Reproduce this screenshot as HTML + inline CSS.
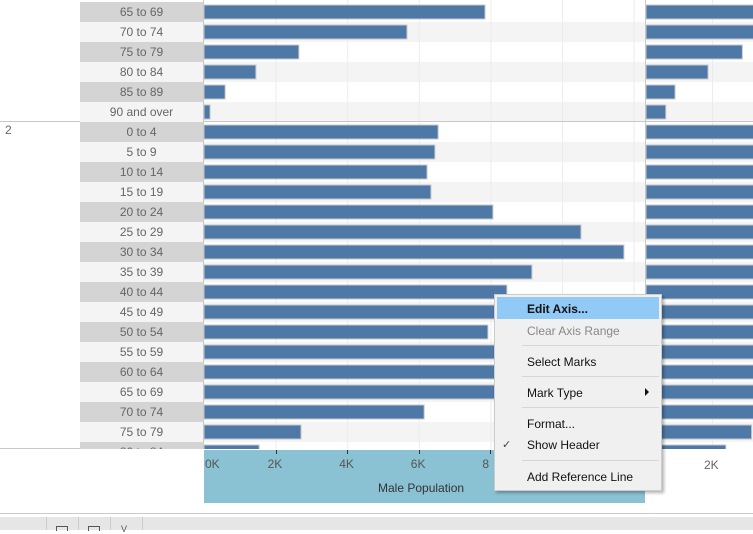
<!DOCTYPE html>
<html><head><meta charset="utf-8"><style>
body{margin:0;width:753px;height:530px;overflow:hidden;background:#fff;font-family:"Liberation Sans",sans-serif;position:relative}
.abs{position:absolute}
#labels{position:absolute;left:0;top:0;width:204px;height:449px;overflow:hidden;z-index:2}
.lbl{position:absolute;left:80px;width:123px;height:20px;line-height:20px;text-align:center;font-size:12px;color:#666}
.menu-item{position:absolute;left:527px;font-size:12px;color:#111;z-index:5}
.sep{position:absolute;left:522px;width:137px;height:1px;background:#d6d6d6;z-index:5}
</style></head><body>
<svg id="svg" class="abs" style="left:0;top:0" width="753" height="449"></svg>
<div id="labels"></div>
<div class="abs" style="left:5px;top:123px;font-size:12px;color:#666;z-index:3">2</div>
<div class="abs" style="left:204px;top:450px;width:441px;height:53px;background:#8bc2d3"></div>
<div class="abs" style="left:378px;top:481px;font-size:12px;color:#333">Male Population</div>
<div id="ticks"></div>
<div class="abs" style="left:704px;top:458px;font-size:12px;color:#666">2K</div>
<div class="abs" style="left:0;top:513px;width:753px;height:1px;background:#ccc"></div>
<div class="abs" style="left:0;top:517px;width:753px;height:13px;background:#e6e6e6">
 <div class="abs" style="left:46px;top:0;width:1px;height:13px;background:#ccc"></div>
 <div class="abs" style="left:78px;top:0;width:1px;height:13px;background:#ccc"></div>
 <div class="abs" style="left:110px;top:0;width:1px;height:13px;background:#ccc"></div>
 <div class="abs" style="left:142px;top:0;width:1px;height:13px;background:#ccc"></div>
 <div class="abs" style="left:56px;top:9px;width:10px;height:4px;border:1px solid #555;border-bottom:none"></div>
 <div class="abs" style="left:88px;top:9px;width:10px;height:4px;border:1px solid #555;border-bottom:none"></div>
 <div class="abs" style="left:121px;top:7px;font-size:9px;color:#555">V</div>
</div>
<div class="abs" style="left:494px;top:294px;width:166px;height:195px;background:#f0f0f0;border:1px solid #ccc;box-shadow:2px 2px 3px rgba(0,0,0,.3);z-index:4"></div>
<div class="abs" style="left:497px;top:297px;width:162px;height:22px;background:#91c9f7;z-index:4"></div>
<div class="menu-item" style="top:302px;font-weight:bold">Edit Axis...</div>
<div class="menu-item" style="top:324px;color:#888">Clear Axis Range</div>
<div class="sep" style="top:345px"></div>
<div class="menu-item" style="top:355px">Select Marks</div>
<div class="sep" style="top:376px"></div>
<div class="menu-item" style="top:386px">Mark Type</div>
<div class="abs" style="left:645px;top:388px;width:0;height:0;border-left:4px solid #111;border-top:4px solid transparent;border-bottom:4px solid transparent;z-index:5"></div>
<div class="sep" style="top:407px"></div>
<div class="menu-item" style="top:417px">Format...</div>
<div class="abs" style="left:502px;top:438px;font-size:11px;color:#444;z-index:5">✓</div>
<div class="menu-item" style="top:438px">Show Header</div>
<div class="sep" style="top:460px"></div>
<div class="menu-item" style="top:470px">Add Reference Line</div>
<script>
const categories=["65 to 69","70 to 74","75 to 79","80 to 84","85 to 89","90 and over","0 to 4","5 to 9","10 to 14","15 to 19","20 to 24","25 to 29","30 to 34","35 to 39","40 to 44","45 to 49","50 to 54","55 to 59","60 to 64","65 to 69","70 to 74","75 to 79","80 to 84"];
const maleValues=[7.85,5.67,2.65,1.45,0.59,0.17,6.54,6.45,6.23,6.34,8.07,10.53,11.73,9.16,8.46,8.2,7.93,8.3,8.4,8.2,6.15,2.71,1.54];
const femaleValues=[8,7.5,2.92,1.88,0.88,0.6,8,8,8,8,8,8,8,8,8,8,8,8,8,8,8,3.2,2.42];
const tickValues=[0,2,4,6,8];
const tickLabels=["0K","2K","4K","6K","8"];
const NS="http://www.w3.org/2000/svg";
const svg=document.getElementById('svg');
const labels=document.getElementById('labels');
const x1=v=>204+v*35.8, x2=v=>646+v*33;
const rowY=i=>2+i*20;
function r(x,y,w,h,f,s){const e=document.createElementNS(NS,'rect');e.setAttribute('x',x);e.setAttribute('y',y);e.setAttribute('width',Math.max(0,w));e.setAttribute('height',h);e.setAttribute('fill',f);if(s){e.setAttribute('stroke',s);e.setAttribute('stroke-width',1);}svg.appendChild(e);return e;}
categories.forEach((c,i)=>{
 const y=rowY(i);const odd=i%2===1;
 const bg=r(204,y,549,20,odd?'#f4f4f4':'#ffffff');
 
 
 const d=document.createElement('div');d.className='lbl';d.style.top=y+'px';d.style.background=odd?'#f4f4f4':'#d4d4d4';d.textContent=c;
 
 
 labels.appendChild(d);
});
tickValues.concat([10,12]).forEach(v=>{if(v>0)r(x1(v),0,1,449,'#ececec');});
r(x2(2),0,1,449,'#ececec');
categories.forEach((c,i)=>{
 const y=rowY(i);
 const b=r(204,y+3,x1(maleValues[i])-204,14,'#4e79a7','#c8c8c8');
 
 
 const b2=r(646,y+3,x2(femaleValues[i])-646,14,'#4e79a7','#c8c8c8');
 
 
});
r(0,121,753,1,'#c8c8c8');
r(203,0,1,449,'#c8c8c8');
r(645,0,1,449,'#c8c8c8');
r(0,448,204,1,'#c8c8c8');
const t=document.getElementById('ticks');
tickValues.forEach((v,i)=>{
 const d=document.createElement('div');d.className='abs';
 d.style.left=(x1(v)-(i===0?-1:8))+'px';d.style.top='457px';d.style.fontSize='12px';d.style.color='#555';d.textContent=tickLabels[i];
 
 
 t.appendChild(d);
 if(i>0){const m=document.createElement('div');m.className='abs';m.style.cssText=`left:${x1(v)}px;top:450px;width:1px;height:4px;background:#333`;t.appendChild(m);}
});
</script>
</body></html>
